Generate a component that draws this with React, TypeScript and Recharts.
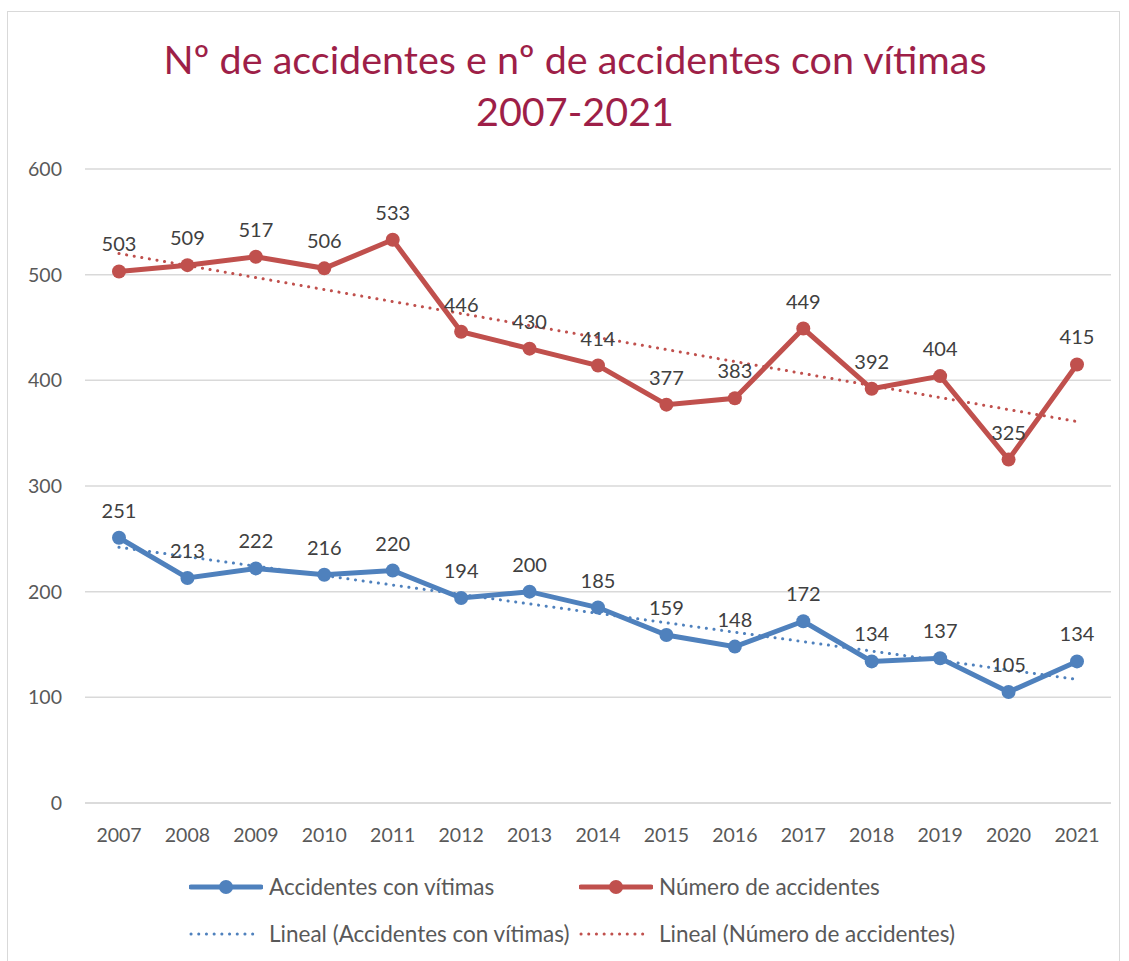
import { LineChart, Line, XAxis, YAxis, CartesianGrid, LabelList } from 'recharts';

const YEARS = ['2007', '2008', '2009', '2010', '2011', '2012', '2013', '2014', '2015', '2016', '2017', '2018', '2019', '2020', '2021'];
const VICTIM_ACCIDENTS = [251, 213, 222, 216, 220, 194, 200, 185, 159, 148, 172, 134, 137, 105, 134];
const TOTAL_ACCIDENTS = [503, 509, 517, 506, 533, 446, 430, 414, 377, 383, 449, 392, 404, 325, 415];
// trend line ends (first and last year)
const VICTIM_TREND_ENDS = [242, 117];
const TOTAL_TREND_ENDS = [520, 361];
const Y_TICKS = [0, 100, 200, 300, 400, 500, 600];

const BLUE = '#4F81BD';
const RED = '#C0504D';
const TEXT = '#595959';
const FONT = 'Lato, "Open Sans", sans-serif';

const last = YEARS.length - 1;
const data = YEARS.map((year, i) => ({
  year,
  victims: VICTIM_ACCIDENTS[i],
  total: TOTAL_ACCIDENTS[i],
  victimTrend: i === 0 ? VICTIM_TREND_ENDS[0] : i === last ? VICTIM_TREND_ENDS[1] : null,
  totalTrend: i === 0 ? TOTAL_TREND_ENDS[0] : i === last ? TOTAL_TREND_ENDS[1] : null,
}));

function LegendIcon({ color, dotted }: { color: string; dotted?: boolean }) {
  return (
    <svg width={74} height={16} style={{ marginRight: 6 }}>
      {dotted ? (
        <line x1={2} y1={8} x2={68} y2={8} stroke={color} strokeWidth={3} strokeDasharray="0.1 7.6" strokeLinecap="round" />
      ) : (
        <>
          <line x1={2} y1={8} x2={72} y2={8} stroke={color} strokeWidth={5} strokeLinecap="round" />
          <circle cx={37} cy={8} r={7} fill={color} />
        </>
      )}
    </svg>
  );
}

function LegendItem({ left, top, color, dotted, label }: { left: number; top: number; color: string; dotted?: boolean; label: string }) {
  return (
    <div style={{ position: 'absolute', left, top, display: 'flex', alignItems: 'center', fontSize: 22.5, color: TEXT, whiteSpace: 'nowrap' }}>
      <LegendIcon color={color} dotted={dotted} />
      <span>{label}</span>
    </div>
  );
}

export default function App() {
  return (
    <div style={{ position: 'absolute', left: 0, top: 0, width: 1129, height: 961, background: '#fff', fontFamily: FONT, overflow: 'hidden' }}>
      <div style={{ position: 'absolute', left: 7, top: 11, width: 1113, height: 970, border: '1.5px solid #d9d9d9', boxSizing: 'border-box' }} />
      <div style={{ position: 'absolute', left: 0, width: 1150, top: 33, textAlign: 'center', color: '#9E1F48', fontSize: 39.5, lineHeight: '52px' }}>
        Nº de accidentes e nº de accidentes con vítimas
        <br />
        2007-2021
      </div>

      <div style={{ position: 'absolute', left: 0, top: 0 }}>
        <LineChart width={1129} height={961} data={data} margin={{ top: 169, right: 18, left: 0, bottom: 0 }}>
          <CartesianGrid vertical={false} stroke="#d9d9d9" strokeWidth={1.5} />
          <XAxis
            dataKey="year"
            padding={{ left: 34, right: 34 }}
            axisLine={{ stroke: '#d9d9d9', strokeWidth: 1.5 }}
            tickLine={false}
            tickSize={0}
            tickMargin={25}
            tick={{ fill: TEXT, fontSize: 19.5, fontFamily: FONT }}
            height={158}
          />
          <YAxis
            domain={[0, 600]}
            ticks={Y_TICKS}
            width={85}
            axisLine={false}
            tickLine={false}
            tickSize={0}
            tickMargin={23}
            tick={{ fill: TEXT, fontSize: 19.5, fontFamily: FONT }}
          />
          <Line dataKey="victims" stroke={BLUE} strokeWidth={5} dot={{ r: 7, fill: BLUE, stroke: BLUE, strokeWidth: 0 }} isAnimationActive={false}>
            <LabelList dataKey="victims" position="top" offset={20} fill="#404040" fontSize={20} fontFamily={FONT} />
          </Line>
          <Line dataKey="total" stroke={RED} strokeWidth={5} dot={{ r: 7, fill: RED, stroke: RED, strokeWidth: 0 }} isAnimationActive={false}>
            <LabelList dataKey="total" position="top" offset={20} fill="#404040" fontSize={20} fontFamily={FONT} />
          </Line>
          <Line dataKey="victimTrend" stroke={BLUE} strokeWidth={3} strokeDasharray="0.1 7.6" strokeLinecap="round" dot={false} connectNulls isAnimationActive={false} />
          <Line dataKey="totalTrend" stroke={RED} strokeWidth={3} strokeDasharray="0.1 7.6" strokeLinecap="round" dot={false} connectNulls isAnimationActive={false} />
        </LineChart>
      </div>

      <LegendItem left={189} top={873} color={BLUE} label="Accidentes con vítimas" />
      <LegendItem left={579} top={873} color={RED} label="Número de accidentes" />
      <LegendItem left={189} top={920} color={BLUE} dotted label="Lineal (Accidentes con vítimas)" />
      <LegendItem left={579} top={920} color={RED} dotted label="Lineal (Número de accidentes)" />
    </div>
  );
}
